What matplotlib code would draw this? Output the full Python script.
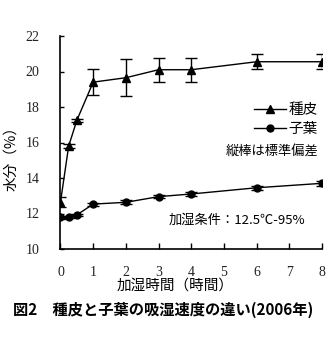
import matplotlib
matplotlib.use("Agg")
import matplotlib.pyplot as plt
from matplotlib.lines import Line2D

plt.rcParams['font.family'] = ['Noto Sans CJK JP', 'DejaVu Sans']

# data
hours = [0, 0.25, 0.5, 1, 2, 3, 4, 6, 8]
seed_coat = [12.65, 15.8, 17.25, 19.4, 19.65, 20.1, 20.1, 20.55, 20.55]
seed_coat_sd = [0.28, 0.12, 0.1, 0.72, 1.05, 0.68, 0.68, 0.42, 0.42]
cotyledon = [11.78, 11.8, 11.92, 12.53, 12.63, 12.95, 13.1, 13.45, 13.7]
cotyledon_sd = [0.08, 0.08, 0.08, 0.08, 0.12, 0.08, 0.12, 0.1, 0.14]
xticks = [0, 1, 2, 3, 4, 5, 6, 7, 8]
yticks = [10, 12, 14, 16, 18, 20, 22]

W, H = 330, 340
fig = plt.figure(figsize=(3.3, 3.4), dpi=100)
ax = fig.add_axes([60.5 / W, 91 / H, (322 - 60.5) / W, (249 - 36) / H])

ax.errorbar(hours, seed_coat, yerr=seed_coat_sd, color="black", lw=1,
            marker="^", ms=6, elinewidth=1, capsize=4, capthick=1)
ax.errorbar(hours, cotyledon, yerr=cotyledon_sd, color="black", lw=1,
            marker="o", ms=5, elinewidth=1, capsize=4, capthick=1)

ax.set_xlim(0, 8)
ax.set_ylim(10, 22)
ax.set_xticks(xticks)
ax.set_yticks(yticks)
ax.spines["top"].set_visible(False)
ax.spines["right"].set_visible(False)
for s in ("left", "bottom"):
    ax.spines[s].set_linewidth(1.2)
ax.tick_params(axis="x", direction="in", length=4, width=1, pad=12, labelsize=10)
ax.tick_params(axis="y", direction="in", length=3, width=1, pad=15, labelsize=10)
for lab in ax.get_xticklabels() + ax.get_yticklabels():
    lab.set_fontfamily(["Liberation Serif"])
    lab.set_color("#222222")

# legend without error bars, like the original
handles = [Line2D([], [], color="black", lw=1, marker="^", ms=6),
           Line2D([], [], color="black", lw=1, marker="o", ms=5)]
ax.legend(handles, ["種皮", "子葉"], loc="upper left", bbox_to_anchor=(0.74, 0.685),
          frameon=False, fontsize=10.5, handlelength=2.2, handletextpad=0.15,
          labelspacing=0.35, borderaxespad=0, borderpad=0)

ax.text(0.985, 0.455, "縦棒は標準偏差", transform=ax.transAxes, ha="right",
        va="center", fontsize=9.5)
ax.text(0.415, 0.135, "加湿条件：12.5℃-95%", transform=ax.transAxes, ha="left",
        va="center", fontsize=9.5)

fig.text(175 / W, 1 - 286 / H, "加湿時間（時間）", ha="center", va="center", fontsize=10.5)
fig.text(11 / W, 1 - 155 / H, "水分（%）", ha="center", va="center",
         rotation=90, fontsize=10.5)
fig.text(163 / W, 1 - 310 / H, "図2　種皮と子葉の吸湿速度の違い(2006年)",
         ha="center", va="center", fontsize=11, fontweight="bold")

fig.savefig("out.png", dpi=100)
